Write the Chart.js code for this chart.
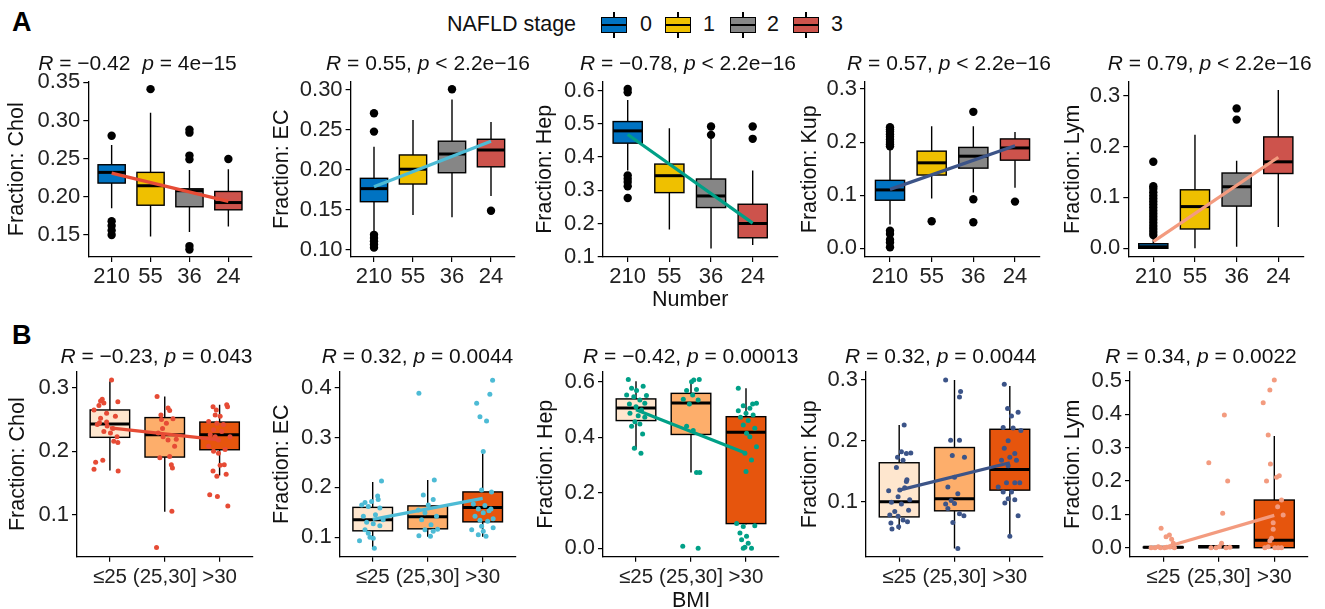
<!DOCTYPE html>
<html><head><meta charset="utf-8">
<script src="https://cdn.jsdelivr.net/npm/chart.js@4.4.1/dist/chart.umd.min.js"></script>
<style>
html,body{margin:0;padding:0;background:#fff;overflow:hidden;width:1325px;height:609px;font-family:"Liberation Sans",Arial,Helvetica,sans-serif;}
#wrap{position:relative;width:1325px;height:609px;overflow:hidden;}
canvas{position:absolute;}
.t{position:absolute;white-space:nowrap;font-size:21px;line-height:21px;color:#111;transform:translateX(-50%);z-index:5;}
.lbl{position:absolute;white-space:nowrap;font-size:21.5px;line-height:21.5px;color:#111;z-index:5;}
.tag{position:absolute;font-weight:bold;font-size:27px;line-height:27px;color:#000;z-index:5;}
.key{position:absolute;width:26px;height:26px;z-index:5;}
.key .wh{position:absolute;left:12.3px;width:1.4px;top:0;height:26px;background:#000;}
.key .bx{position:absolute;left:0;top:5px;width:26px;height:16px;box-sizing:border-box;border:1.4px solid #000;}
.key .md{position:absolute;left:0;top:11.8px;width:26px;height:2.4px;background:#000;}
</style>
</head><body><div id="wrap"></div>
<script>
// ---------- categories & tick labels ----------
const stageLabels = ['210','55','36','24'];
const bmiLabels = ['≤25','(25,30]','>30'];
const stageNames = ['0','1','2','3'];
const stageColors = ['#0073C2','#EFC000','#868686','#CD534C'];
const bmiColors = ['#FEE6CE','#FDAE6B','#E6550D'];

const cholStageTicks = ['0.15','0.20','0.25','0.30','0.35'];
const ecStageTicks = ['0.10','0.15','0.20','0.25','0.30'];
const hepStageTicks = ['0.1','0.2','0.3','0.4','0.5','0.6'];
const kupStageTicks = ['0.0','0.1','0.2','0.3'];
const lymStageTicks = ['0.0','0.1','0.2','0.3'];
const cholBmiTicks = ['0.1','0.2','0.3'];
const ecBmiTicks = ['0.1','0.2','0.3','0.4'];
const hepBmiTicks = ['0.0','0.2','0.4','0.6'];
const kupBmiTicks = ['0.1','0.2','0.3'];
const lymBmiTicks = ['0.0','0.1','0.2','0.3','0.4','0.5'];

// ---------- panel A: box stats [lower whisker, Q1, median, Q3, upper whisker] ----------
const cholStageBox = [[0.185,0.218,0.232,0.242,0.268],[0.148,0.189,0.2145,0.232,0.31],[0.154,0.187,0.208,0.2105,0.235],[0.161,0.183,0.1925,0.207,0.236]];
const ecStageBox = [[0.122,0.1604,0.1767,0.1896,0.229],[0.1438,0.1825,0.201,0.2188,0.2625],[0.141,0.1966,0.22,0.236,0.288],[0.1675,0.204,0.225,0.2384,0.26]];
const hepStageBox = [[0.36,0.442,0.479,0.507,0.572],[0.182,0.293,0.344,0.379,0.487],[0.125,0.248,0.283,0.334,0.455],[0.135,0.157,0.2,0.258,0.36]];
const kupStageBox = [[0.045,0.0906,0.11,0.128,0.188],[0.094,0.138,0.161,0.183,0.23],[0.105,0.151,0.1735,0.19,0.23],[0.114,0.166,0.189,0.206,0.219]];
const lymStageBox = [[0,0,0.003,0.009,0.022],[0,0.038,0.082,0.115,0.223],[0.003,0.083,0.121,0.148,0.172],[0.042,0.147,0.17,0.219,0.311]];

// outliers [group, value]
const cholStageOut = [[0,0.28],[0,0.168],[0,0.162],[0,0.156],[0,0.15],[1,0.341],[2,0.288],[2,0.284],[2,0.254],[2,0.249],[2,0.1355],[2,0.131],[3,0.2496]];
const ecStageOut = [[0,0.271],[0,0.248],[0,0.119],[0,0.115],[0,0.111],[0,0.107],[0,0.103],[2,0.301],[3,0.149]];
const hepStageOut = [[0,0.605],[0,0.595],[0,0.345],[0,0.335],[0,0.325],[0,0.312],[0,0.277],[2,0.492],[2,0.467],[3,0.492],[3,0.455]];
const kupStageOut = [[0,0.228],[0,0.224],[0,0.22],[0,0.215],[0,0.21],[0,0.205],[0,0.2],[0,0.196],[0,0.192],[0,0.033],[0,0.027],[0,0.016],[0,0.011],[0,0.002],[1,0.051],[2,0.257],[2,0.0925],[2,0.049],[3,0.088]];
const lymStageOut = [[0,0.17],[0,0.122],[0,0.117],[0,0.11],[0,0.104],[0,0.098],[0,0.092],[0,0.086],[0,0.08],[0,0.074],[0,0.068],[0,0.062],[0,0.056],[0,0.05],[0,0.044],[0,0.038],[0,0.032],[0,0.026],[2,0.275],[2,0.253]];

// fitted line values at first and last category
const cholStageFit = [0.231,0.194];
const ecStageFit = [0.179,0.236];
const hepStageFit = [0.468,0.201];
const kupStageFit = [0.111,0.193];
const lymStageFit = [0.013,0.179];

// ---------- panel B ----------
const cholBmiBox = [[0.17,0.222,0.243,0.265,0.31],[0.105,0.191,0.226,0.253,0.286],[0.162,0.2025,0.226,0.246,0.273]];
const ecBmiBox = [[0.078,0.113,0.135,0.16,0.211],[0.101,0.117,0.141,0.163,0.215],[0.101,0.131,0.16,0.191,0.268]];
const hepBmiBox = [[0.356,0.46,0.505,0.538,0.602],[0.273,0.41,0.523,0.558,0.602],[0.086,0.089,0.418,0.474,0.576]];
const kupBmiBox = [[0.054,0.075,0.1,0.164,0.226],[0.023,0.085,0.105,0.189,0.3],[0.043,0.119,0.153,0.219,0.29]];
const lymBmiBox = [[0,0,0.001,0.002,0.002],[0,0,0.003,0.006,0.008],[0,0,0.022,0.143,0.335]];

// jittered samples [group, horizontal jitter, value]
const cholBmiPts = [[0,0.03,0.312],[0,-0.14,0.282],[0,-0.17,0.279],[0,-0.11,0.276],[0,-0.2,0.272],[0,0.145,0.278],[0,-0.29,0.265],[0,-0.06,0.26],[0,0.1,0.255],[0,-0.17,0.252],[0,-0.23,0.242],[0,-0.05,0.24],[0,0.055,0.236],[0,-0.11,0.231],[0,0.01,0.229],[0,0.13,0.223],[0,0.07,0.216],[0,0.145,0.214],[0,-0.26,0.183],[0,-0.13,0.186],[0,-0.29,0.172],[0,0.15,0.169],[0,-0.19,0.245],[0,-0.06,0.246],
 [1,-0.14,0.286],[1,0.06,0.268],[1,0.09,0.264],[1,-0.07,0.257],[1,0.03,0.244],[1,-0.04,0.236],[1,-0.12,0.229],[1,0.06,0.218],[1,-0.03,0.223],[1,0.18,0.208],[1,0.09,0.192],[1,-0.09,0.19],[1,0.12,0.179],[1,0.14,0.174],[1,0.13,0.106],[1,-0.15,0.049],[1,0.15,0.251],[1,-0.06,0.25],[1,0.21,0.219],
 [2,-0.12,0.27],[2,-0.06,0.265],[2,0.13,0.273],[2,0.145,0.27],[2,-0.08,0.257],[2,0.01,0.255],[2,-0.2,0.247],[2,-0.05,0.244],[2,0.07,0.242],[2,-0.11,0.234],[2,0.04,0.231],[2,-0.17,0.226],[2,-0.08,0.223],[2,0.19,0.223],[2,-0.02,0.218],[2,-0.2,0.208],[2,0.1,0.203],[2,-0.11,0.2],[2,-0.02,0.197],[2,-0.12,0.169],[2,0.085,0.179],[2,-0.05,0.161],[2,0.12,0.164],[2,-0.18,0.132],[2,-0.04,0.129],[2,0.15,0.114],[2,0.01,0.178]];
const ecBmiPts = [[0,0.16,0.213],[0,0.09,0.183],[0,-0.14,0.17],[0,-0.02,0.172],[0,0.13,0.159],[0,-0.2,0.165],[0,-0.08,0.162],[0,0.05,0.145],[0,-0.17,0.142],[0,0.19,0.135],[0,-0.11,0.13],[0,0.01,0.127],[0,0.13,0.123],[0,-0.14,0.115],[0,-0.24,0.093],[0,-0.05,0.1],[0,0.01,0.098],[0,0.03,0.078],[0,-0.08,0.108],[0,0.1,0.176],
 [1,-0.16,0.389],[1,0.12,0.215],[1,-0.08,0.185],[1,0.1,0.176],[1,0.01,0.165],[1,-0.17,0.155],[1,-0.05,0.149],[1,0.16,0.142],[1,-0.11,0.135],[1,0.06,0.125],[1,-0.05,0.115],[1,0.1,0.112],[1,-0.16,0.103],[1,0.05,0.102],[1,0.18,0.116],
 [2,0.18,0.415],[2,0.13,0.387],[2,-0.11,0.369],[2,-0.05,0.342],[2,0.07,0.333],[2,0.01,0.272],[2,-0.02,0.195],[2,0.16,0.191],[2,-0.17,0.167],[2,0.04,0.164],[2,-0.08,0.157],[2,0.115,0.153],[2,0.01,0.149],[2,-0.14,0.142],[2,0.19,0.137],[2,-0.05,0.134],[2,0.09,0.132],[2,-0.2,0.115],[2,-0.02,0.122],[2,0.19,0.119],[2,-0.08,0.105],[2,0.06,0.102],[2,0.01,0.112],[2,0.15,0.157]];
const hepBmiPts = [[0,-0.14,0.608],[0,-0.08,0.576],[0,0.01,0.568],[0,0.13,0.584],[0,-0.17,0.552],[0,-0.04,0.546],[0,0.07,0.534],[0,0.16,0.522],[0,-0.12,0.52],[0,0,0.51],[0,0.1,0.498],[0,-0.11,0.486],[0,0.04,0.477],[0,0.16,0.472],[0,-0.02,0.456],[0,0.07,0.448],[0,-0.08,0.44],[0,0.12,0.412],[0,-0.03,0.36],[0,0.09,0.342],[0,0.19,0.55],
 [1,0.05,0.606],[1,0.15,0.608],[1,0.01,0.6],[1,-0.08,0.568],[1,0.1,0.572],[1,0.03,0.552],[1,-0.14,0.537],[1,-0.03,0.52],[1,0.13,0.534],[1,-0.08,0.44],[1,0.04,0.424],[1,0.16,0.273],[1,0.1,0.273],[1,-0.15,0.007],[1,0.13,0.0],
 [2,-0.14,0.576],[2,0.12,0.52],[2,0.19,0.522],[2,-0.05,0.513],[2,0.07,0.504],[2,-0.14,0.495],[2,0,0.486],[2,0.13,0.48],[2,-0.1,0.472],[2,0.04,0.46],[2,-0.05,0.444],[2,0.16,0.432],[2,0.01,0.414],[2,0.07,0.402],[2,0.19,0.366],[2,-0.02,0.342],[2,0.1,0.318],[2,0,0.277],[2,-0.17,0.089],[2,-0.05,0.079],[2,0.16,0.081],[2,-0.11,0.055],[2,0.01,0.043],[2,-0.08,0.031],[2,0.04,0.018],[2,-0.02,0.004],[2,0.1,0.0],[2,-0.05,0.0]];
const kupBmiPts = [[0,0.09,0.226],[0,0.04,0.182],[0,0.13,0.179],[0,0.21,0.18],[0,-0.03,0.173],[0,0.07,0.168],[0,-0.05,0.156],[0,0.14,0.136],[0,0.13,0.133],[0,-0.19,0.118],[0,0.1,0.123],[0,0.01,0.119],[0,-0.02,0.108],[0,0.19,0.103],[0,-0.14,0.099],[0,0.04,0.096],[0,0.17,0.086],[0,-0.08,0.084],[0,-0.17,0.078],[0,-0.02,0.076],[0,0.07,0.07],[0,0.15,0.067],[0,-0.15,0.065],[0,-0.13,0.055],[0,-0.01,0.059],
 [1,-0.16,0.3],[1,0.11,0.281],[1,0.09,0.272],[1,-0.07,0.201],[1,0.09,0.201],[1,-0.04,0.176],[1,0.18,0.173],[1,-0.12,0.124],[1,0.06,0.113],[1,-0.06,0.102],[1,0,0.097],[1,-0.16,0.096],[1,-0.12,0.089],[1,0.09,0.08],[1,0.17,0.077],[1,-0.03,0.066],[1,0.06,0.023],[1,0,0.14],
 [2,-0.1,0.293],[2,-0.04,0.253],[2,0.15,0.247],[2,0.03,0.241],[2,-0.12,0.222],[2,0.06,0.221],[2,-0.03,0.2],[2,-0.1,0.188],[2,0.09,0.179],[2,0,0.173],[2,0.12,0.168],[2,-0.15,0.168],[2,-0.03,0.159],[2,-0.21,0.124],[2,-0.06,0.131],[2,0.09,0.131],[2,0.18,0.131],[2,-0.12,0.116],[2,0.03,0.116],[2,-0.03,0.105],[2,0.09,0.103],[2,-0.09,0.098],[2,0.15,0.077],[2,0,0.043],[2,0.2,0.217]];
const lymBmiPts = [[0,-0.04,0.058],[0,0.05,0.033],[0,0.11,0.038],[0,0.15,0.025],[0,0.18,0.013],[0,-0.09,0.003],[0,0.06,0.001],[0,0.12,0.002],[0,-0.15,0.0],[0,-0.05,0.0],[0,0.02,0.0],[0,0.2,0.0],[0,-0.22,0.0],
 [1,0.1,0.398],[1,-0.18,0.255],[1,0.16,0.2],[1,0.07,0.103],[1,0.05,0.013],[1,0.01,0.003],[1,0.13,0.0],[1,-0.05,0.0],[1,-0.14,0.0],[1,0.2,0.001],
 [2,0,0.503],[2,-0.08,0.473],[2,-0.2,0.435],[2,-0.11,0.338],[2,-0.07,0.251],[2,0.09,0.216],[2,0.04,0.211],[2,-0.14,0.2],[2,0.13,0.143],[2,0.06,0.123],[2,0.16,0.098],[2,-0.02,0.075],[2,-0.02,0.055],[2,-0.05,0.028],[2,-0.08,0.021],[2,-0.11,0.003],[2,0.01,0.0],[2,0.07,0.0],[2,0.13,0.0],[2,-0.17,0.0]];

const cholBmiFit = [0.237,0.218];
const ecBmiFit = [0.136,0.178];
const hepBmiFit = [0.499,0.342];
const kupBmiFit = [0.119,0.164];
const lymBmiFit = [0.0,0.097];

// ---------- text ----------
const stageTitles = ['<i>R</i> = −0.42&nbsp;&nbsp;<i>p</i> = 4e−15','<i>R</i> = 0.55, <i>p</i> &lt; 2.2e−16','<i>R</i> = −0.78, <i>p</i> &lt; 2.2e−16','<i>R</i> = 0.57, <i>p</i> &lt; 2.2e−16','<i>R</i> = 0.79, <i>p</i> &lt; 2.2e−16'];
const bmiTitles = ['<i>R</i> = −0.23, <i>p</i> = 0.043','<i>R</i> = 0.32, <i>p</i> = 0.0044','<i>R</i> = −0.42, <i>p</i> = 0.00013','<i>R</i> = 0.32, <i>p</i> = 0.0044','<i>R</i> = 0.34, <i>p</i> = 0.0022'];
const yTitles = ['Fraction: Chol','Fraction: EC','Fraction: Hep','Fraction: Kup','Fraction: Lym'];
const lineColors = ['#E64B35','#4DBBD5','#00A087','#3C5488','#F39B7F'];

// ---------- layout (pixel geometry only) ----------
const colLeft = [0,265,530,795,1060];
const rowA = {top:60, h:253, T:81.5, B:257, titleY:62.5, boxW:0.70, xFont:22};
const rowB = {top:350, h:264, T:371.7, B:556.7, titleY:355, boxW:0.72, xFont:20.5};
const geomA = [
 {l:88.3,r:251.7,ymin:0.1212,ymax:0.3510,yt:17,tx:137.5},
 {l:350.6,r:514.4,ymin:0.0913,ymax:0.3106,yt:17,tx:428},
 {l:602.7,r:777.7,ymin:0.0991,ymax:0.6277,yt:15,tx:688},
 {l:865,r:1040,ymin:-0.0163,ymax:0.3141,yt:15,tx:949},
 {l:1128.3,r:1303.3,ymin:-0.0171,ymax:0.3279,yt:13,tx:1209.7}];
const geomB = [
 {l:77,r:252.5,ymin:0.0345,ymax:0.3251,yt:18,tx:156.5},
 {l:339.7,r:515.7,ymin:0.0611,ymax:0.4321,yt:17,tx:417.5},
 {l:603,r:779,ymin:-0.0302,ymax:0.636,yt:16,tx:690.8},
 {l:866,r:1043,ymin:0.0096,ymax:0.3136,yt:15,tx:940.8},
 {l:1130,r:1307.6,ymin:-0.027,ymax:0.5279,yt:13,tx:1201}];

const wrap = document.getElementById('wrap');
function addDiv(cls, html, style){const d=document.createElement('div');d.className=cls;d.innerHTML=html;Object.assign(d.style,style);wrap.appendChild(d);return d;}

function boxPlugin(stats, fills, width){
  return {id:'boxes', beforeDatasetsDraw(chart){
    const {ctx, scales:{x,y}} = chart;
    ctx.save();
    stats.forEach((s,i)=>{
      const cx = x.getPixelForValue(i);
      const hw = (x.getPixelForValue(i+width/2) - x.getPixelForValue(i-width/2))/2;
      const lo=y.getPixelForValue(s[0]), q1=y.getPixelForValue(s[1]), md=y.getPixelForValue(s[2]), q3=y.getPixelForValue(s[3]), hi=y.getPixelForValue(s[4]);
      ctx.strokeStyle='#000'; ctx.lineWidth=1.4;
      ctx.beginPath(); ctx.moveTo(cx,lo); ctx.lineTo(cx,q1); ctx.moveTo(cx,q3); ctx.lineTo(cx,hi); ctx.stroke();
      ctx.fillStyle=fills[i];
      ctx.fillRect(cx-hw,q3,2*hw,q1-q3);
      ctx.strokeRect(cx-hw,q3,2*hw,q1-q3);
      ctx.lineWidth=3; ctx.beginPath(); ctx.moveTo(cx-hw,md); ctx.lineTo(cx+hw,md); ctx.stroke();
    });
    ctx.restore();
  }};
}

function makePanel(idx, row, g, cats, fills, stats, outliers, jitter, fit, ticks, xTitle){
  const cv = document.createElement('canvas');
  const cl = colLeft[idx], cw = 265;
  cv.width = cw; cv.height = row.h;
  cv.style.left = cl+'px'; cv.style.top = row.top+'px';
  wrap.appendChild(cv);
  const n = cats.length;
  const tickVals = ticks.map(parseFloat);
  const datasets = [
    {data:[{x:0,y:fit[0]},{x:n-1,y:fit[1]}], showLine:true, borderColor:lineColors[idx], borderWidth:3.2, pointRadius:0, order:0, clip:false, borderCapStyle:'butt'}
  ];
  if (outliers) datasets.push({data:outliers.map(o=>({x:o[0],y:o[1]})), pointRadius:4.2, pointBackgroundColor:'#000', pointBorderWidth:0, showLine:false, order:1, clip:false});
  if (jitter) datasets.push({data:jitter.map(p=>({x:p[0]+p[1],y:p[2]})), pointRadius:2.5, pointBackgroundColor:lineColors[idx], pointBorderWidth:0, showLine:false, order:1, clip:false});
  const fam = '"Liberation Sans", Arial, sans-serif';
  const yFont = {family:fam, size:22};
  const xFont = {family:fam, size:row.xFont};
  new Chart(cv, {
    type:'scatter',
    data:{datasets},
    plugins:[boxPlugin(stats, fills, row.boxW)],
    options:{
      responsive:false, animation:false, devicePixelRatio:1, events:[],
      layout:{padding:{top:row.T-row.top, left:0, bottom:0, right:cl+cw-g.r}},
      plugins:{legend:{display:false}, tooltip:{enabled:false}},
      scales:{
        x:{type:'linear', min:-0.6, max:n-0.4,
          afterBuildTicks:s=>{s.ticks=cats.map((c,i)=>({value:i}));},
          afterFit:s=>{s.height=row.top+row.h-row.B;},
          ticks:{callback:(v)=>cats[Math.round(v)], font:xFont, color:'#222', padding:row.xFont<22?3:2, maxRotation:0, autoSkip:false},
          grid:{drawOnChartArea:false, drawTicks:true, tickLength:5, color:'#000', lineWidth:1.2},
          border:{display:true, color:'#000', width:1.3},
          title:{display:!!xTitle, text:xTitle||'', font:{family:fam,size:21.5,lineHeight:1.2}, color:'#111', padding:{top:0,bottom:0}}
        },
        y:{type:'linear', min:g.ymin, max:g.ymax,
          afterBuildTicks:s=>{s.ticks=tickVals.map(v=>({value:v}));},
          afterFit:s=>{s.width=g.l-cl;},
          ticks:{callback:(v,i)=>ticks[i], font:yFont, color:'#222', padding:3, autoSkip:false},
          grid:{drawOnChartArea:false, drawTicks:true, tickLength:5, color:'#000', lineWidth:1.2},
          border:{display:true, color:'#000', width:1.3},
          title:{display:true, text:yTitles[idx], font:{family:fam,size:21.5,lineHeight:1.2}, color:'#111', padding:{top:g.yt-12.9,bottom:0}}
        }
      }
    }
  });
}

const stageBoxes=[cholStageBox,ecStageBox,hepStageBox,kupStageBox,lymStageBox];
const stageOuts=[cholStageOut,ecStageOut,hepStageOut,kupStageOut,lymStageOut];
const stageFits=[cholStageFit,ecStageFit,hepStageFit,kupStageFit,lymStageFit];
const stageTicks=[cholStageTicks,ecStageTicks,hepStageTicks,kupStageTicks,lymStageTicks];
const bmiBoxes=[cholBmiBox,ecBmiBox,hepBmiBox,kupBmiBox,lymBmiBox];
const bmiPts=[cholBmiPts,ecBmiPts,hepBmiPts,kupBmiPts,lymBmiPts];
const bmiFits=[cholBmiFit,ecBmiFit,hepBmiFit,kupBmiFit,lymBmiFit];
const bmiTicks=[cholBmiTicks,ecBmiTicks,hepBmiTicks,kupBmiTicks,lymBmiTicks];

for(let i=0;i<5;i++){
  makePanel(i,rowA,geomA[i],stageLabels,stageColors,stageBoxes[i],stageOuts[i],null,stageFits[i],stageTicks[i], i===2?'Number':null);
  makePanel(i,rowB,geomB[i],bmiLabels,bmiColors,bmiBoxes[i],null,bmiPts[i],bmiFits[i],bmiTicks[i], i===2?'BMI':null);
  addDiv('t',stageTitles[i],{left:geomA[i].tx+'px',top:(rowA.titleY-10.5)+'px'});
  addDiv('t',bmiTitles[i],{left:geomB[i].tx+'px',top:(rowB.titleY-10.5)+'px'});
}

// panel tags
addDiv('tag','A',{left:'12px',top:'9px'});
addDiv('tag','B',{left:'12px',top:'321.5px'});

// legend
addDiv('lbl','NAFLD stage',{left:'447px',top:'14px'});
const keyX=[601,665,730,793], keyLabelX=[646,709,773,837];
stageNames.forEach((s,i)=>{
  const k=addDiv('key','<div class="wh"></div><div class="bx"></div><div class="md"></div>',{left:keyX[i]+'px',top:'12px'});
  k.querySelector('.bx').style.background=stageColors[i];
  const l=addDiv('lbl',s,{left:keyLabelX[i]+'px',top:'14px'});
  l.style.transform='translateX(-50%)';
});
</script>
</body></html>
